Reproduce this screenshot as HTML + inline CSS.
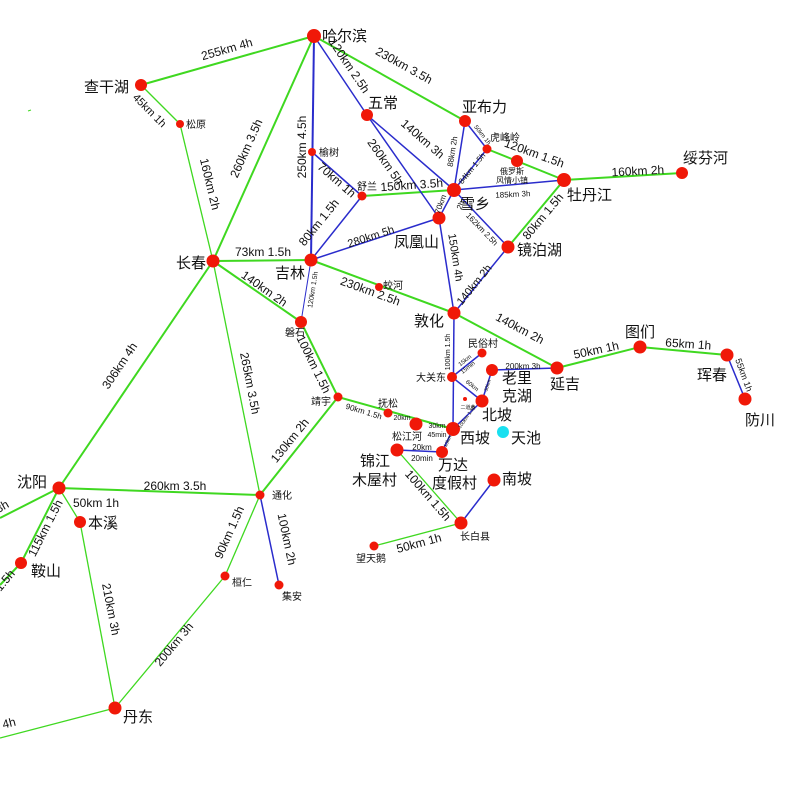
<!DOCTYPE html>
<html><head><meta charset="utf-8"><style>
html,body{margin:0;padding:0;background:#fff;}
svg{display:block;font-family:"Liberation Sans","Noto Sans CJK SC",sans-serif;}
.g{stroke:#3fd820;fill:none;}
.b{stroke:#2a2ccc;fill:none;}
.n{fill:#f01808;}
text{fill:#111;}
.l{font-size:12px;text-anchor:middle;}
.s{font-size:9px;text-anchor:middle;}
.t{font-size:7px;text-anchor:middle;}
.c{font-size:15px;}
.cs{font-size:10px;}
</style></head><body>
<svg width="800" height="800" viewBox="0 0 800 800">
<g class="g" stroke-width="2">
<line x1="314" y1="36" x2="141" y2="85"/>
<line x1="314" y1="36" x2="213" y2="261"/>
<line x1="314" y1="36" x2="465" y2="121"/>
<line x1="487" y1="149" x2="564" y2="180"/>
<line x1="362" y1="196" x2="454" y2="190"/>
<line x1="564" y1="180" x2="682" y2="173"/>
<line x1="564" y1="180" x2="508" y2="247"/>
<line x1="213" y1="261" x2="311" y2="260"/>
<line x1="213" y1="261" x2="301" y2="322"/>
<line x1="311" y1="260" x2="454" y2="313"/>
<line x1="454" y1="313" x2="557" y2="368"/>
<line x1="557" y1="368" x2="640" y2="347"/>
<line x1="640" y1="347" x2="727" y2="355"/>
<line x1="301" y1="322" x2="338" y2="397"/>
<line x1="338" y1="397" x2="453" y2="429"/>
<line x1="338" y1="397" x2="260" y2="495"/>
<line x1="213" y1="261" x2="59" y2="488"/>
<line x1="59" y1="488" x2="260" y2="495"/>
<line x1="59" y1="488" x2="0" y2="518"/>
<line x1="59" y1="488" x2="21" y2="563"/>
<line x1="21" y1="563" x2="0" y2="585"/>
</g>
<g class="g" stroke-width="1.3">
<line x1="141" y1="85" x2="180" y2="124"/>
<line x1="180" y1="124" x2="213" y2="261"/>
<line x1="213" y1="261" x2="260" y2="495"/>
<line x1="59" y1="488" x2="80" y2="522"/>
<line x1="80" y1="522" x2="115" y2="708"/>
<line x1="115" y1="708" x2="225" y2="576"/>
<line x1="225" y1="576" x2="260" y2="495"/>
<line x1="115" y1="708" x2="0" y2="738"/>
<line x1="397" y1="450" x2="461" y2="523"/>
<line x1="374" y1="546" x2="461" y2="523"/>
</g>
<g class="b" stroke-width="2">
<line x1="314" y1="36" x2="311" y2="260"/>
</g>
<g class="b" stroke-width="1.5">
<line x1="312" y1="152" x2="362" y2="196"/>
<line x1="362" y1="196" x2="311" y2="260"/>
<line x1="314" y1="36" x2="367" y2="115"/>
<line x1="367" y1="115" x2="454" y2="190"/>
<line x1="367" y1="115" x2="439" y2="218"/>
<line x1="465" y1="121" x2="454" y2="190"/>
<line x1="465" y1="121" x2="487" y2="149"/>
<line x1="487" y1="149" x2="454" y2="190"/>
<line x1="454" y1="190" x2="564" y2="180"/>
<line x1="454" y1="190" x2="439" y2="218"/>
<line x1="454" y1="190" x2="508" y2="247"/>
<line x1="311" y1="260" x2="439" y2="218"/>
<line x1="439" y1="218" x2="454" y2="313"/>
<line x1="508" y1="247" x2="454" y2="313"/>
<line x1="454" y1="313" x2="453" y2="429"/>
<line x1="452" y1="377" x2="482" y2="353"/>
<line x1="452" y1="377" x2="482" y2="401"/>
<line x1="482" y1="401" x2="492" y2="370"/>
<line x1="492" y1="370" x2="557" y2="368"/>
<line x1="482" y1="401" x2="453" y2="429"/>
<line x1="453" y1="429" x2="442" y2="452"/>
<line x1="397" y1="450" x2="442" y2="452"/>
<line x1="461" y1="523" x2="494" y2="480"/>
<line x1="260" y1="495" x2="279" y2="585"/>
<line x1="727" y1="355" x2="745" y2="399"/>
</g>
<g class="b" stroke-width="1"><line x1="311" y1="260" x2="301" y2="322"/></g>
<g class="n">
<circle cx="314" cy="36" r="7"/><circle cx="141" cy="85" r="6"/><circle cx="180" cy="124" r="4"/>
<circle cx="367" cy="115" r="6"/><circle cx="465" cy="121" r="6"/><circle cx="487" cy="149" r="4.5"/>
<circle cx="517" cy="161" r="6"/><circle cx="312" cy="152" r="4"/><circle cx="362" cy="196" r="4.5"/>
<circle cx="454" cy="190" r="7"/><circle cx="439" cy="218" r="6.5"/><circle cx="564" cy="180" r="7"/>
<circle cx="682" cy="173" r="6"/><circle cx="508" cy="247" r="6.5"/><circle cx="213" cy="261" r="6.5"/>
<circle cx="311" cy="260" r="6.5"/><circle cx="379" cy="287" r="4"/><circle cx="301" cy="322" r="6"/>
<circle cx="454" cy="313" r="6.5"/><circle cx="482" cy="353" r="4.5"/><circle cx="452" cy="377" r="5"/>
<circle cx="492" cy="370" r="6"/><circle cx="482" cy="401" r="6.5"/><circle cx="465" cy="399" r="2"/>
<circle cx="338" cy="397" r="4.5"/><circle cx="388" cy="413" r="4.5"/><circle cx="416" cy="424" r="6.5"/>
<circle cx="453" cy="429" r="7"/><circle cx="442" cy="452" r="6"/><circle cx="397" cy="450" r="6.5"/>
<circle cx="494" cy="480" r="6.5"/><circle cx="461" cy="523" r="6.5"/><circle cx="374" cy="546" r="4.5"/>
<circle cx="640" cy="347" r="6.5"/><circle cx="557" cy="368" r="6.5"/><circle cx="727" cy="355" r="6.5"/>
<circle cx="745" cy="399" r="6.5"/><circle cx="59" cy="488" r="6.5"/><circle cx="80" cy="522" r="6"/>
<circle cx="21" cy="563" r="6"/><circle cx="260" cy="495" r="4.5"/><circle cx="225" cy="576" r="4.5"/>
<circle cx="279" cy="585" r="4.5"/><circle cx="115" cy="708" r="6.5"/>
</g>
<circle cx="503" cy="432" r="6" fill="#19e0f0"/>
<g class="c">
<text x="322" y="41">哈尔滨</text><text x="84" y="92">查干湖</text><text x="368" y="108">五常</text>
<text x="462" y="112">亚布力</text><text x="460" y="209">雪乡</text><text x="394" y="247">凤凰山</text>
<text x="567" y="200">牡丹江</text><text x="683" y="163">绥芬河</text><text x="517" y="255">镜泊湖</text>
<text x="176" y="268">长春</text><text x="275" y="278">吉林</text><text x="414" y="326">敦化</text>
<text x="502" y="383">老里</text><text x="502" y="401">克湖</text><text x="482" y="420">北坡</text>
<text x="460" y="443">西坡</text><text x="511" y="443">天池</text><text x="438" y="470">万达</text>
<text x="432" y="488">度假村</text><text x="360" y="466">锦江</text><text x="352" y="485">木屋村</text>
<text x="502" y="484">南坡</text><text x="625" y="337">图们</text><text x="550" y="389">延吉</text>
<text x="697" y="380">珲春</text><text x="745" y="425">防川</text><text x="17" y="487">沈阳</text>
<text x="88" y="528">本溪</text><text x="31" y="576">鞍山</text><text x="123" y="722">丹东</text>
</g>
<g class="cs">
<text x="186" y="128">松原</text><text x="319" y="156">榆树</text><text x="357" y="190">舒兰</text>
<text x="490" y="141">虎峰岭</text><text x="383" y="289">蛟河</text><text x="285" y="336">磐石</text>
<text x="468" y="347">民俗村</text><text x="416" y="381">大关东</text><text x="311" y="405">靖宇</text>
<text x="378" y="407">抚松</text><text x="392" y="440">松江河</text><text x="460" y="540">长白县</text>
<text x="356" y="562">望天鹅</text><text x="272" y="499">通化</text><text x="232" y="586">桓仁</text>
<text x="282" y="600">集安</text>
</g>
<text x="512" y="174" class="t" style="font-size:8px">俄罗斯</text>
<text x="512" y="183" class="t" style="font-size:8px">风情小镇</text>
<text x="468" y="409" style="font-size:5px;text-anchor:middle">二道黄</text>
<g class="l">
<text transform="translate(228,53) rotate(-16)">255km  4h</text>
<text transform="translate(147,113) rotate(45)" style="font-size:11px">45km 1h</text>
<text transform="translate(206,185) rotate(76.5)">160km 2h</text>
<text transform="translate(250,150) rotate(-66)">260km 3.5h</text>
<text transform="translate(402,69) rotate(29)">230km 3.5h</text>
<text transform="translate(346,68) rotate(56)">120km 2.5h</text>
<text transform="translate(306,147) rotate(-90)">250km 4.5h</text>
<text transform="translate(334,183) rotate(41)">70km 1h</text>
<text transform="translate(322,225) rotate(-51)">80km 1.5h</text>
<text transform="translate(420,142) rotate(41)">140km 3h</text>
<text transform="translate(382,164) rotate(55)">260km 5h</text>
<text transform="translate(533,157) rotate(20)">120km 1.5h</text>
<text transform="translate(412,189) rotate(-4)">150km  3.5h</text>
<text transform="translate(546,219) rotate(-50)">80km 1.5h</text>
<text transform="translate(638,175) rotate(-3)">160km  2h</text>
<text transform="translate(372,240) rotate(-18)" style="font-size:11px">280km  5h</text>
<text transform="translate(452,258) rotate(81)" style="font-size:11px">150km 4h</text>
<text transform="translate(477,287) rotate(-51)" style="font-size:11px">140km 2h</text>
<text transform="translate(263,256)">73km 1.5h</text>
<text transform="translate(262,292) rotate(35)">140km 2h</text>
<text transform="translate(369,295) rotate(20)">230km  2.5h</text>
<text transform="translate(518,332) rotate(28)">140km 2h</text>
<text transform="translate(597,354) rotate(-12)">50km 1h</text>
<text transform="translate(688,348) rotate(4)">65km 1h</text>
<text transform="translate(741,376) rotate(70)" style="font-size:9px">55km 1h</text>
<text transform="translate(310,366) rotate(64)">100km 1.5h</text>
<text transform="translate(293,443) rotate(-51)">130km 2h</text>
<text transform="translate(246,384) rotate(79)">265km 3.5h</text>
<text transform="translate(123,368) rotate(-56)">306km 4h</text>
<text transform="translate(175,490)">260km 3.5h</text>
<text transform="translate(96,507)">50km 1h</text>
<text transform="translate(49,530) rotate(-63)">115km 1.5h</text>
<text transform="translate(8,583) rotate(-50)">1.5h</text>
<text transform="translate(4,510) rotate(-30)">3h</text>
<text transform="translate(107,610) rotate(79)">210km 3h</text>
<text transform="translate(177,647) rotate(-50)">200km 3h</text>
<text transform="translate(233,534) rotate(-66)">90km 1.5h</text>
<text transform="translate(283,540) rotate(78)">100km 2h</text>
<text transform="translate(10,727) rotate(-14)">4h</text>
<text transform="translate(425,498) rotate(49)">100km 1.5h</text>
<text transform="translate(420,547) rotate(-15)">50km 1h</text>
</g>
<g class="s">
<text transform="translate(455,152) rotate(-81)" style="font-size:8px">88km  2h</text>
<text transform="translate(474,170) rotate(-51)" style="font-size:8px">84km 1.5h</text>
<text transform="translate(481,136) rotate(52)" style="font-size:6px">50km 1h</text>
<text transform="translate(513,197) rotate(-3)" style="font-size:8px">185km  3h</text>
<text transform="translate(443,205) rotate(-70)" style="font-size:8px">70km</text>
<text transform="translate(463,206) rotate(-70)" style="font-size:8px">2h</text>
<text transform="translate(480,231) rotate(46)" style="font-size:8px">162km  2.5h</text>
<text transform="translate(315,290) rotate(-81)" style="font-size:7px">120km 1.5h</text>
<text transform="translate(363,414) rotate(17)" style="font-size:8px">90km  1.5h</text>
<text x="402" y="420" style="font-size:7px">20km</text>
<text x="437" y="428" style="font-size:7px">30km</text>
<text x="437" y="437" style="font-size:7px">45min</text>
<text transform="translate(450,352) rotate(-90)" style="font-size:7px">100km 1.5h</text>
<text transform="translate(466,362) rotate(-38)" style="font-size:6px">15km</text>
<text transform="translate(469,369) rotate(-38)" style="font-size:6px">15min</text>
<text transform="translate(471,387) rotate(38)" style="font-size:6px">60km</text>
<text transform="translate(489,386) rotate(-72)" style="font-size:5px">30km</text>
<text x="523" y="369" style="font-size:8px">200km  3h</text>
<text x="422" y="450" style="font-size:8px">20km</text>
<text x="422" y="461" style="font-size:8px">20min</text>
<text transform="translate(468,418) rotate(-55)" style="font-size:5px">100km 1.5h</text>
<text transform="translate(449,442) rotate(-65)" style="font-size:5px">10km</text>
</g>
<line x1="28" y1="111" x2="31" y2="110" stroke="#3fd820" stroke-width="1"/>
</svg>
</body></html>
